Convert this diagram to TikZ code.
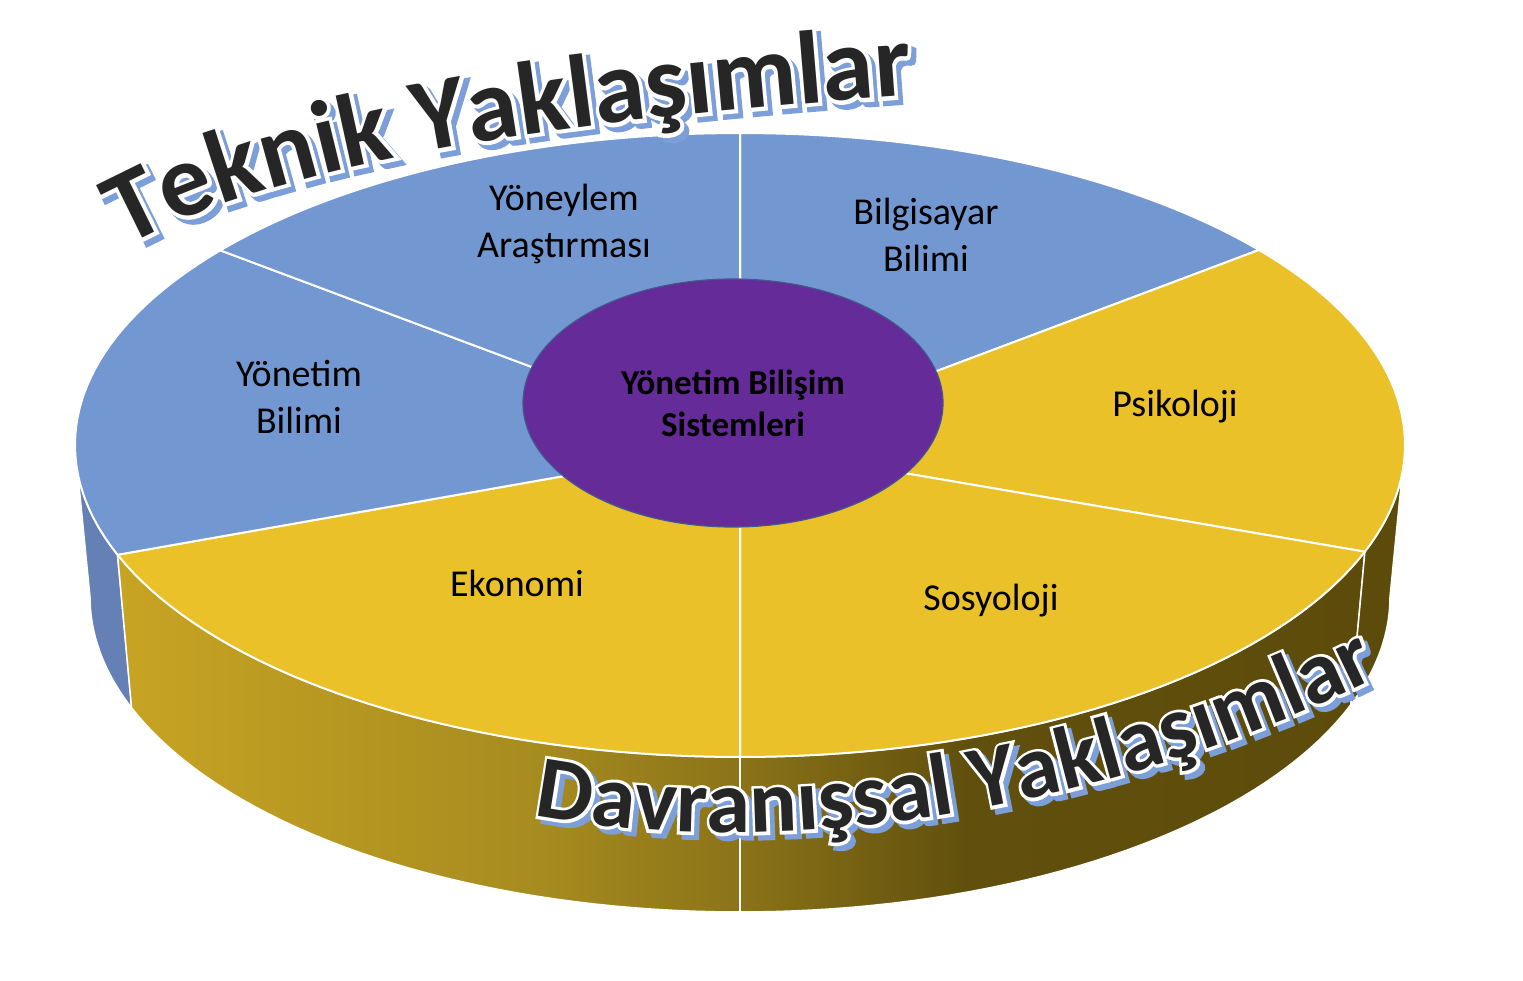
\documentclass[tikz,border=0pt]{standalone}
\usepackage{fontspec}
\setmainfont{Carlito}
\newfontfamily\waD{Carlito Bold}
\newfontfamily\waW{Carlito Bold}[FakeBold=7]
\usetikzlibrary{shapes.geometric,decorations.text}
\definecolor{topblue}{HTML}{7397D0}
\definecolor{sideblue}{HTML}{6480B5}
\definecolor{topgold}{HTML}{EAC128}
\definecolor{sidedark}{HTML}{5C4B0A}
\definecolor{gA}{HTML}{C8A423}
\definecolor{gB}{HTML}{A68B1F}
\definecolor{gC}{HTML}{8B7318}
\definecolor{gD}{HTML}{61500D}
\definecolor{misfill}{HTML}{652B99}
\definecolor{misedge}{HTML}{42588E}
\definecolor{txtdark}{HTML}{262626}
\definecolor{shblue}{HTML}{7C9FD9}
\pgfdeclarehorizontalshading{goldside}{100bp}{color(0bp)=(gA); color(25bp)=(gA); color(42bp)=(gB); color(50bp)=(gC); color(59bp)=(gD); color(75bp)=(sidedark); color(100bp)=(sidedark)}
\tikzset{
  topface/.style={draw=white, line width=2pt, line join=round},
  sideface/.style={draw=white, line width=1.5pt, line join=round},
  lbl/.style={font=\fontsize{38}{47}\selectfont, text=black, inner sep=0pt, align=center},
}
\newcommand\archtext[3]{%
  \path[shift={(5,5)}, decorate, decoration={text along path, text align=left,
    text={|\color{shblue}\waW\fontsize{#2}{#2}\selectfont|#3}}] #1;
  \path[decorate, decoration={text along path, text align=left,
    text={|\color{white}\waW\fontsize{#2}{#2}\selectfont|#3}}] #1;
  \path[decorate, decoration={text along path, text align=left,
    text={|\color{txtdark}\waD\fontsize{#2}{#2}\selectfont|#3}}] #1;
}
\begin{document}
\begin{tikzpicture}[x=1pt, y=-1pt]
\useasboundingbox (0,0) rectangle (1523,980);
\coordinate (C) at (740,445);
% side walls
\filldraw[sideblue, sideface]
  plot[domain=159.4:180, samples=20] ({740+665*cos(\x)},{445+312*sin(\x)})
  -- plot[domain=180:159.4, samples=20] ({740+650*cos(\x)},{597+315*sin(\x)}) -- cycle;
\shadedraw[shading=goldside, sideface]
  plot[domain=20:159.4, samples=80] ({740+665*cos(\x)},{445+312*sin(\x)})
  -- plot[domain=159.4:20, samples=80] ({740+650*cos(\x)},{597+315*sin(\x)}) -- cycle;
\filldraw[sidedark, sideface]
  plot[domain=0:20, samples=20] ({740+665*cos(\x)},{445+312*sin(\x)})
  -- plot[domain=20:0, samples=20] ({740+650*cos(\x)},{597+315*sin(\x)}) -- cycle;
\draw[white, line width=1.5pt] (740,757) -- (740,912);
% top slices
\filldraw[topblue, topface] (C) -- plot[domain=-90:-38.7, samples=40] ({740+665*cos(\x)},{445+312*sin(\x)}) -- cycle;
\filldraw[topgold, topface] (C) -- plot[domain=-38.7:20, samples=40] ({740+665*cos(\x)},{445+312*sin(\x)}) -- cycle;
\filldraw[topgold, topface] (C) -- plot[domain=20:90, samples=40] ({740+665*cos(\x)},{445+312*sin(\x)}) -- cycle;
\filldraw[topgold, topface] (C) -- plot[domain=90:159.4, samples=40] ({740+665*cos(\x)},{445+312*sin(\x)}) -- cycle;
\filldraw[topblue, topface] (C) -- plot[domain=159.4:218.6, samples=40] ({740+665*cos(\x)},{445+312*sin(\x)}) -- cycle;
\filldraw[topblue, topface] (C) -- plot[domain=218.6:270, samples=40] ({740+665*cos(\x)},{445+312*sin(\x)}) -- cycle;
% centre
\node (mis) [ellipse, fill=misfill, draw=misedge, line width=1.2pt, minimum width=420pt, minimum height=248pt, inner sep=0pt, font=\bfseries\fontsize{35}{42}\selectfont, align=center] at (733,403) {Yönetim Bilişim\\Sistemleri};
% labels
\node (yar) [lbl, anchor=north] at (564,183.5) {Yöneylem\\Araştırması};
\node (bil) [lbl, anchor=north] at (926,197.5) {Bilgisayar\\Bilimi};
\node (ybi) [lbl, anchor=north] at (299,360) {Yönetim\\Bilimi};
\node (psi) [lbl, anchor=base] at (1175,416) {Psikoloji};
\node (eko) [lbl, anchor=base] at (517,596) {Ekonomi};
\node (sos) [lbl, anchor=base] at (991,610) {Sosyoloji};
% curved titles
\archtext{(126,247) .. controls (300,150) and (630,113) .. (990,90)}{104}{Teknik Yaklaşımlar}
\archtext{(534,815) .. controls (800,866) and (1150,805) .. (1440,645)}{89}{Davranışsal Yaklaşımlar}
\end{tikzpicture}
\end{document}
